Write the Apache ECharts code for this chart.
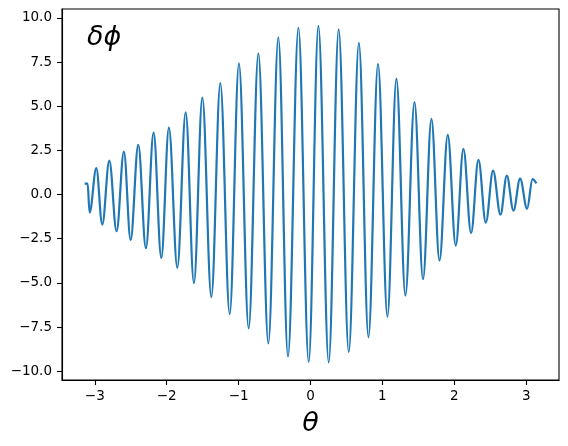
<!DOCTYPE html>
<html>
<head>
<meta charset="utf-8">
<script src="https://cdn.jsdelivr.net/npm/echarts@6/dist/echarts.min.js"></script>
<style>
html,body{margin:0;padding:0;background:#fff;}
#chart{width:568px;height:446px;}
</style>
</head>
<body>
<div id="chart"></div>
<script>
// theta positions of the curve's read-off key points (start, extrema, end)
var theta = [
  -3.1416, -3.100, -3.072, -2.979, -2.896, -2.798, -2.697, -2.595, -2.502, -2.395,
  -2.289, -2.182, -2.075, -1.969, -1.852, -1.736, -1.621, -1.504, -1.379, -1.254,
  -1.124, -0.995, -0.860, -0.725, -0.586, -0.447, -0.313, -0.168, -0.025, 0.110,
  0.253, 0.392, 0.532, 0.673, 0.806, 0.939, 1.070, 1.195, 1.320, 1.446,
  1.565, 1.682, 1.794, 1.909, 2.020, 2.127, 2.233, 2.336, 2.438, 2.539,
  2.642, 2.730, 2.823, 2.915, 3.012, 3.088, 3.1416
];
// delta-phi values at those points
var dphi = [
  0.62, 0.62, -1.02, 1.49, -1.70, 1.92, -2.08, 2.43, -2.57, 2.81,
  -3.04, 3.50, -3.59, 3.78, -4.15, 4.65, -5.02, 5.48, -5.81, 6.31,
  -6.77, 7.43, -7.58, 7.99, -8.43, 8.90, -9.17, 9.44, -9.48, 9.54,
  -9.50, 9.35, -8.92, 8.58, -8.07, 7.39, -6.92, 6.56, -5.72, 5.23,
  -4.79, 4.28, -3.74, 3.37, -2.89, 2.58, -2.19, 1.96, -1.59, 1.35,
  -1.14, 1.07, -0.91, 0.90, -0.81, 0.87, 0.63
];
var xTicks = [-3, -2, -1, 0, 1, 2, 3];
var yTicks = [-10, -7.5, -5, -2.5, 0, 2.5, 5, 7.5, 10];
var xRange = [-3.456, 3.456];
var yRange = [-10.5, 10.5];

var data = theta.map(function (t, i) { return [t, dphi[i]]; });
var minus = function (s) { return s.replace('-', '\u2212'); };
var FONT = 'DejaVu Sans';

var chart = echarts.init(document.getElementById('chart'), null, {renderer: 'canvas'});
chart.setOption({
  animation: false,
  backgroundColor: '#fff',
  grid: {left: 62, right: 9, top: 9, bottom: 66, show: true, borderColor: '#000', borderWidth: 1.1, backgroundColor: 'transparent'},
  xAxis: {
    type: 'value', min: xRange[0], max: xRange[1],
    axisLine: {show: true, onZero: false, lineStyle: {color: '#000', width: 1.1}},
    axisTick: {show: true, inside: false, length: 5, customValues: xTicks, lineStyle: {color: '#000', width: 1.1}},
    axisLabel: {show: true, customValues: xTicks, margin: 9, color: '#000', fontSize: 13.5, fontFamily: FONT,
      formatter: function (v) { return minus(String(v)); }},
    splitLine: {show: false},
    name: '\u03b8', nameLocation: 'middle', nameGap: 30,
    nameTextStyle: {fontSize: 27, fontStyle: 'italic', fontFamily: FONT, color: '#000'}
  },
  yAxis: {
    type: 'value', min: yRange[0], max: yRange[1],
    axisLine: {show: true, onZero: false, lineStyle: {color: '#000', width: 1.1}},
    axisTick: {show: true, inside: false, length: 5, customValues: yTicks, lineStyle: {color: '#000', width: 1.1}},
    axisLabel: {show: true, customValues: yTicks, margin: 10, color: '#000', fontSize: 13.5, fontFamily: FONT,
      formatter: function (v) { return minus(v.toFixed(1)); }},
    splitLine: {show: false}
  },
  graphic: [{
    type: 'text', left: 87, top: 24,
    style: {text: '\u03b4\u03d5', fontSize: 27, fontStyle: 'italic', fontFamily: FONT, fill: '#000'}
  }],
  series: [{
    type: 'line', data: data, showSymbol: false, symbol: 'none',
    smooth: 0.36, smoothMonotone: 'x',
    lineStyle: {color: '#1f77b4', width: 2.2}
  }]
});
</script>
</body>
</html>
